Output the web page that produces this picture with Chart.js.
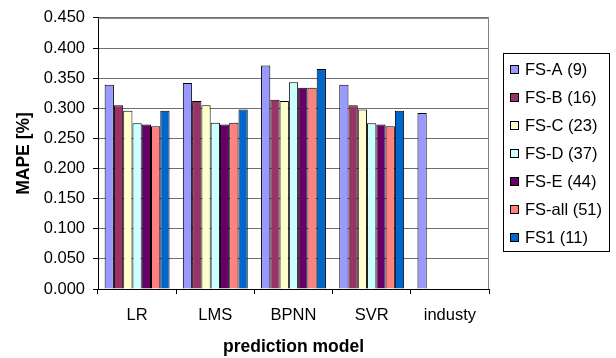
<!DOCTYPE html>
<html>
<head>
<meta charset="utf-8">
<script src="https://cdn.jsdelivr.net/npm/chart.js@4/dist/chart.umd.min.js"></script>
<style>
  html, body { margin: 0; padding: 0; background: #fff; }
  #wrap { width: 616px; height: 358px; }
</style>
</head>
<body>
<div id="wrap"><canvas id="c" width="616" height="358"></canvas></div>
<script>
// Prediction models on the x axis
const models = ['LR', 'LMS', 'BPNN', 'SVR', 'industy'];

// MAPE per feature set, one value per model
const fsA   = [0.339, 0.342, 0.371, 0.339, 0.292];
const fsB   = [0.305, 0.312, 0.314, 0.305, null];
const fsC   = [0.296, 0.305, 0.312, 0.298, null];
const fsD   = [0.275, 0.276, 0.343, 0.275, null];
const fsE   = [0.273, 0.273, 0.334, 0.273, null];
const fsAll = [0.270, 0.276, 0.334, 0.270, null];
const fs1   = [0.296, 0.298, 0.365, 0.296, null];

const seriesLabels = ['FS-A (9)', 'FS-B (16)', 'FS-C (23)', 'FS-D (37)', 'FS-E (44)', 'FS-all (51)', 'FS1 (11)'];
const seriesColors = ['#9999FF', '#993366', '#FFFFCC', '#CCFFFF', '#660066', '#FF8080', '#0066CC'];
const seriesValues = [fsA, fsB, fsC, fsD, fsE, fsAll, fs1];

const FONT = '"Liberation Sans", Arial, sans-serif';
const TEXT_SIZE = 16.5;
const TITLE_SIZE = 17.5;

// Grey frame around the plot area (top and right edges)
const plotFrame = {
  id: 'plotFrame',
  beforeDatasetsDraw(chart) {
    const { ctx, chartArea: a } = chart;
    ctx.save();
    ctx.strokeStyle = '#808080';
    ctx.lineWidth = 1;
    ctx.beginPath();
    ctx.moveTo(a.left, a.top + 0.5);
    ctx.lineTo(a.right - 0.5, a.top + 0.5);
    ctx.lineTo(a.right - 0.5, a.bottom);
    ctx.stroke();
    ctx.restore();
  }
};

// Boxed legend to the right of the plot
const boxLegend = {
  id: 'boxLegend',
  afterDraw(chart) {
    const { ctx } = chart;
    const x0 = 503, y0 = 53, w = 106, h = 198;
    const firstY = 69, step = 28;
    ctx.save();
    ctx.fillStyle = '#fff';
    ctx.fillRect(x0, y0, w, h);
    ctx.strokeStyle = '#000';
    ctx.lineWidth = 1;
    ctx.strokeRect(x0 + 0.5, y0 + 0.5, w, h);
    ctx.font = TEXT_SIZE + 'px ' + FONT;
    ctx.textBaseline = 'middle';
    ctx.textAlign = 'left';
    chart.data.datasets.forEach((ds, i) => {
      const cy = firstY + i * step;
      ctx.fillStyle = ds.backgroundColor;
      ctx.fillRect(510, cy - 4, 9, 9);
      ctx.strokeStyle = '#000';
      ctx.strokeRect(510.5, cy - 3.5, 8, 8);
      ctx.fillStyle = '#000';
      ctx.fillText(ds.label, 525, cy + 1);
    });
    ctx.restore();
  }
};

new Chart(document.getElementById('c'), {
  type: 'bar',
  data: {
    labels: models,
    datasets: seriesValues.map((vals, i) => ({
      label: seriesLabels[i],
      data: vals,
      backgroundColor: seriesColors[i],
      borderColor: '#000',
      borderWidth: 1,
      categoryPercentage: 0.83,
      barPercentage: 1.0
    }))
  },
  options: {
    responsive: false,
    animation: false,
    layout: { padding: { left: 0, top: 15, right: 127, bottom: 0 } },
    plugins: {
      legend: { display: false },
      tooltip: { enabled: false }
    },
    scales: {
      x: {
        grid: {
          offset: true,
          drawOnChartArea: false,
          drawTicks: true,
          tickLength: 5,
          tickColor: '#000'
        },
        border: { color: '#000', width: 1 },
        ticks: {
          color: '#000',
          font: { family: FONT, size: TEXT_SIZE },
          padding: 12,
          maxRotation: 0
        },
        title: {
          display: true,
          text: 'prediction model',
          color: '#000',
          font: { family: FONT, size: TITLE_SIZE, weight: 'bold' },
          padding: { top: 0, bottom: 0.5 }
        },
        afterFit(scale) { scale.height = 69; }
      },
      y: {
        min: 0,
        max: 0.45,
        grid: {
          color: '#6e6e6e',
          lineWidth: 1,
          tickLength: 5,
          tickColor: '#000'
        },
        border: { color: '#000', width: 1 },
        ticks: {
          stepSize: 0.05,
          color: '#000',
          padding: 8,
          font: { family: FONT, size: TEXT_SIZE },
          callback: v => Number(v).toFixed(3)
        },
        title: {
          display: true,
          text: 'MAPE [%]',
          color: '#000',
          font: { family: FONT, size: TITLE_SIZE, weight: 'bold' },
          padding: { top: 13.5, bottom: 0 }
        },
        afterFit(scale) { scale.width = 98; }
      }
    }
  },
  plugins: [plotFrame, boxLegend]
});
</script>
</body>
</html>
